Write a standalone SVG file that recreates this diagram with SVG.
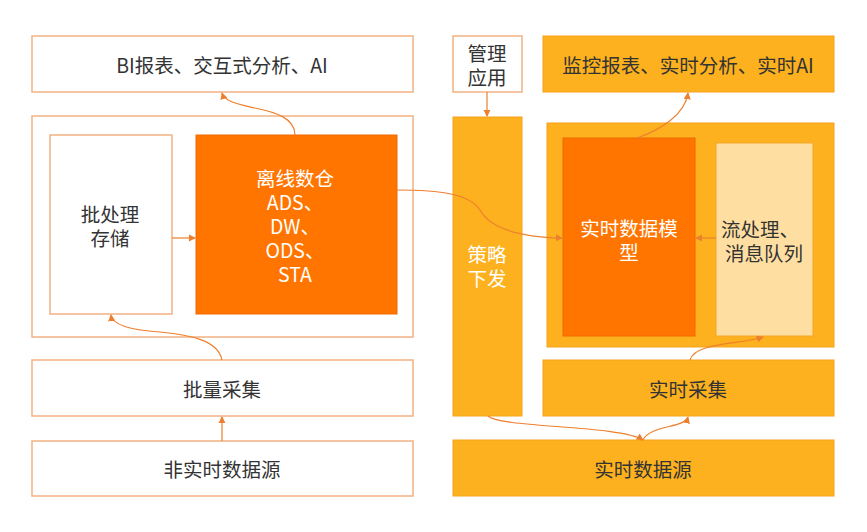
<svg xmlns="http://www.w3.org/2000/svg" width="867" height="532" viewBox="0 0 867 532">
<style>
text{font-family:"Noto Sans CJK SC","Liberation Sans",sans-serif;font-size:19.5px;text-anchor:middle;dominant-baseline:central}
.w{fill:#fff;stroke:#F2B183;stroke-width:1.5}
.a{fill:#FDB11E;stroke:#F7A21A;stroke-width:1}
.o{fill:#FF7500;stroke:#F06A00;stroke-width:1}
.l{fill:#FFDFA1;stroke:#F3A528;stroke-width:1}
.dk{fill:#333}
.wt{fill:#fff}
.c path{fill:none;stroke:#EE7F2E;stroke-width:1.2;marker-end:url(#ar)}
</style>
<defs>
<marker id="ar" viewBox="0 0 8 8" refX="7" refY="4" markerWidth="6" markerHeight="6" orient="auto">
<path d="M0,0 L8,4 L0,8 z" fill="#EE7F2E"/>
</marker>
</defs>
<rect width="867" height="532" fill="#fff"/>
<g id="bi"><rect class="w" x="32" y="36" width="381" height="56"/><text class="dk" x="222" y="64">BI报表、交互式分析、AI</text></g>
<g id="offline-container"><rect class="w" x="32" y="116" width="381" height="221"/></g>
<g id="batch-storage"><rect class="w" x="50" y="135" width="122" height="179"/><text class="dk" x="110" y="213">批处理<tspan x="110" dy="24">存储</tspan></text></g>
<g id="offline-dw"><rect class="o" x="196" y="135" width="201" height="179"/>
<text class="wt" x="295" y="177">离线数仓<tspan x="295" dy="24">ADS、</tspan><tspan x="295" dy="24">DW、</tspan><tspan x="295" dy="24">ODS、</tspan><tspan x="295" dy="24">STA</tspan></text></g>
<g id="batch-collect"><rect class="w" x="32" y="360" width="381" height="56"/><text class="dk" x="222" y="388">批量采集</text></g>
<g id="nonrt-source"><rect class="w" x="32" y="441" width="381" height="55"/><text class="dk" x="222" y="468">非实时数据源</text></g>
<g id="mgmt"><rect class="w" x="453" y="36" width="69" height="56"/><text class="dk" x="487" y="52">管理<tspan x="487" dy="24">应用</tspan></text></g>
<g id="policy"><rect class="a" x="453" y="117" width="69" height="299"/><text class="wt" x="487" y="253">策略<tspan x="487" dy="24">下发</tspan></text></g>
<g id="monitor"><rect class="a" x="543" y="36" width="291" height="56"/><text class="dk" x="688" y="64">监控报表、实时分析、实时AI</text></g>
<g id="rt-container"><rect class="a" x="547" y="123" width="287" height="224"/></g>
<g id="rt-model"><rect class="o" x="563" y="138" width="132" height="198"/><text class="wt" x="629" y="227">实时数据模<tspan x="629" dy="24">型</tspan></text></g>
<g id="stream"><rect class="l" x="716" y="143" width="97" height="193"/><text class="dk" x="760" y="228">流处理、<tspan x="764" dy="24">消息队列</tspan></text></g>
<g id="rt-collect"><rect class="a" x="543" y="360" width="291" height="56"/><text class="dk" x="688" y="388">实时采集</text></g>
<g id="rt-source"><rect class="a" x="453" y="440" width="381" height="56"/><text class="dk" x="643" y="468">实时数据源</text></g>
<g class="c" id="connectors">
<path d="M295,135 C295,118 275,112 255,108 C238,104 225,102 222,93"/>
<path d="M172,238 L195,238"/>
<path d="M222,360 C218,340 190,335 160,332 C130,330 112,325 111,315"/>
<path d="M222,441 L222,417"/>
<path d="M397,190 C440,190 470,194 480,210 C490,228 520,237 562,238"/>
<path d="M637,138 C660,130 685,115 688,93"/>
<path d="M716,238 L696,238"/>
<path d="M690,360 C695,342 740,345 763,337"/>
<path d="M487,92 L487,116"/>
<path d="M488,416 C500,428 620,425 643,440"/>
<path d="M643,440 C650,425 685,428 688,417"/>
</g>
</svg>
